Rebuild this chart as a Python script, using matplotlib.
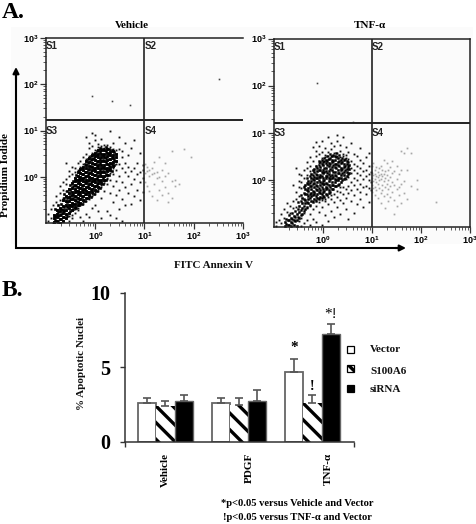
#!/usr/bin/env python3
# plot.py - flow cytometry panels (A) and apoptotic nuclei bars (B)

import matplotlib
matplotlib.use("Agg")
import matplotlib.pyplot as plt
from matplotlib.patches import Rectangle
from matplotlib.ticker import LogLocator, NullFormatter

plt.rcParams['font.family'] = ['Liberation Serif', 'DejaVu Serif']
plt.rcParams['mathtext.fontset'] = 'custom'
plt.rcParams['mathtext.bf'] = 'Liberation Sans:bold'
plt.rcParams['hatch.linewidth'] = 2.4

W, H = 477, 524

# scatter values are log10 readings, one x per column with its list of y
veh_core_x = [-0.84, -0.78, -0.72, -0.66, -0.60, -0.54, -0.48, -0.42, -0.36, -0.30, -0.24, -0.18,
              -0.12, -0.06, 0.0, 0.06, 0.12, 0.18, 0.24, 0.30, 0.36, 0.42]
veh_core_y = [[-0.98, -0.9, -0.82], [-0.96, -0.88, -0.8, -0.72], [-0.99, -0.91, -0.83, -0.75, -0.67],
              [-0.95, -0.87, -0.79, -0.71, -0.63, -0.5], [-0.9, -0.8, -0.72, -0.62, -0.52, -0.42],
              [-0.78, -0.68, -0.6, -0.52, -0.44, -0.36, -0.26], [-0.72, -0.64, -0.56, -0.48, -0.4, -0.32, -0.24, -0.14],
              [-0.66, -0.58, -0.5, -0.42, -0.34, -0.26, -0.18, -0.1, -0.02], [-0.62, -0.54, -0.46, -0.38, -0.3, -0.22, -0.14, -0.06, 0.02, 0.1],
              [-0.56, -0.48, -0.4, -0.32, -0.24, -0.16, -0.08, 0.0, 0.08, 0.16], [-0.5, -0.42, -0.34, -0.26, -0.18, -0.1, -0.02, 0.06, 0.14, 0.22],
              [-0.46, -0.38, -0.3, -0.22, -0.14, -0.06, 0.02, 0.1, 0.18, 0.26, 0.34], [-0.4, -0.32, -0.24, -0.16, -0.08, 0.0, 0.08, 0.16, 0.24, 0.32, 0.4],
              [-0.34, -0.26, -0.18, -0.1, -0.02, 0.06, 0.14, 0.22, 0.3, 0.38, 0.46], [-0.28, -0.2, -0.12, -0.04, 0.04, 0.12, 0.2, 0.28, 0.36, 0.44, 0.52],
              [-0.22, -0.14, -0.06, 0.02, 0.1, 0.18, 0.26, 0.34, 0.42, 0.5, 0.58], [-0.14, -0.06, 0.02, 0.1, 0.18, 0.26, 0.34, 0.42, 0.5, 0.58],
              [-0.06, 0.02, 0.1, 0.18, 0.26, 0.34, 0.42, 0.5, 0.58], [0.04, 0.12, 0.2, 0.28, 0.36, 0.44, 0.52, 0.6],
              [0.14, 0.22, 0.3, 0.38, 0.46, 0.54], [0.24, 0.32, 0.4, 0.48, 0.56], [0.34, 0.42, 0.5]]
veh_fill_x = [-0.81, -0.75, -0.69, -0.63, -0.57, -0.51, -0.45, -0.39, -0.33, -0.27, -0.21, -0.15, -0.09, -0.03,
              0.03, 0.09, 0.15, 0.21, 0.27, 0.33, 0.39]
veh_fill_y = [[-0.93, -0.85, -0.7], [-0.97, -0.84, -0.77, -0.62], [-0.92, -0.81, -0.69, -0.58], [-0.86, -0.74, -0.65, -0.47, -0.38],
              [-0.84, -0.66, -0.55, -0.46, -0.3], [-0.75, -0.62, -0.49, -0.41, -0.28, -0.18], [-0.7, -0.59, -0.45, -0.37, -0.21, -0.1],
              [-0.67, -0.53, -0.44, -0.31, -0.2, -0.07, 0.04], [-0.6, -0.49, -0.36, -0.25, -0.11, -0.02, 0.13], [-0.58, -0.44, -0.29, -0.19, -0.05, 0.05, 0.19],
              [-0.52, -0.37, -0.27, -0.12, -0.01, 0.11, 0.27], [-0.47, -0.33, -0.19, -0.09, 0.04, 0.15, 0.3, 0.39], [-0.43, -0.28, -0.13, -0.02, 0.11, 0.24, 0.36, 0.44],
              [-0.37, -0.22, -0.07, 0.03, 0.17, 0.27, 0.41, 0.5], [-0.3, -0.17, -0.02, 0.09, 0.23, 0.32, 0.47, 0.55], [-0.25, -0.1, 0.06, 0.15, 0.29, 0.39, 0.53, 0.62],
              [-0.16, -0.03, 0.13, 0.21, 0.37, 0.46, 0.6], [-0.08, 0.07, 0.17, 0.31, 0.41, 0.55, 0.64], [0.03, 0.16, 0.25, 0.39, 0.49, 0.6],
              [0.12, 0.27, 0.43, 0.58], [0.26, 0.37, 0.54]]
veh_sparse_x = [-0.95, -0.9, -0.85, -0.8, -0.72, -0.66, -0.6, -0.54, -0.48, -0.42, -0.36, -0.3, -0.24, -0.18, -0.12,
                -0.06, 0.0, 0.06, 0.12, 0.18, 0.24, 0.3, 0.36, 0.42, 0.48, 0.54, 0.6, 0.66, 0.72, 0.78, 0.84, 0.9, 0.96]
veh_sparse_y = [[-0.95, -0.8], [-0.9, -0.7], [-0.99, -0.6], [-0.55, -0.42], [-0.5, -0.35, -0.2], [-0.45, -0.28, -0.12],
                [-0.3, -0.15, 0.3, -0.05], [-0.95, -0.85, 0.02, 0.12], [-0.9, -0.82, 0.05, 0.22], [-0.78, -0.7, 0.1, 0.18],
                [-0.72, -0.68, 0.15, 0.3], [-0.86, -0.6, 0.22, 0.33], [-0.95, -0.55, -0.58, 0.28, 0.42], [-0.8, -0.52, 0.38, 0.5, 0.85],
                [-0.88, -0.48, -0.44, 0.45, 0.62, 0.72], [-0.68, -0.42, -0.38, 0.52, 0.66, 0.95], [-0.6, -0.38, -0.32, 0.58, 0.8, 0.9],
                [-0.75, -0.3, -0.27, 0.64, 0.7], [-0.9, -0.45, -0.22, -0.18, 0.62, 0.66, 0.82], [-0.3, -0.14, -0.1, 0.62, 0.68], [-0.75, -0.15, -0.05, -0.02, 0.62, 0.68],
                [-0.82, -0.35, -0.08, 0.08, 0.58, 0.65, 0.98], [-0.55, -0.2, 0.05, 0.18, 0.6, 0.72], [-0.9, -0.4, -0.1, 0.15, 0.28, 0.58],
                [-0.7, -0.28, 0.02, 0.28, 0.6, 0.85], [-0.95, -0.48, -0.12, 0.2, 0.42, 0.55], [-0.6, -0.22, 0.1, 0.3, 0.72],
                [-0.35, 0.02, 0.22, 0.48], [-0.58, -0.15, 0.12, 0.62], [-0.42, -0.05, 0.18, 0.8], [-0.28, 0.05, 0.3], [-0.5, -0.12, 0.1, 0.52], [-0.32, -0.02, 0.15, 0.25]]
veh_s4_x = [1.02, 1.05, 1.1, 1.15, 1.2, 1.25, 1.3, 1.36, 1.42, 1.48, 1.55, 1.62, 1.7, 1.8, 1.95]
veh_s4_y = [[0.28, 0.08, -0.12], [0.22, 0.12, -0.2], [0.15, 0.02, -0.3], [0.2, 0.05, -0.42], [0.32, 0.08, -0.15], [0.1, -0.02, -0.5],
            [0.42, 0.0, -0.28], [0.14, -0.1, -0.4], [0.02, -0.22, 0.3], [0.08, -0.35, -0.55], [-0.1, -0.45, 0.55], [-0.08, -0.2], [-0.15], [0.6], [0.42]]
veh_upper_x = [-0.06, 0.33, 0.7, 2.52]
veh_upper_y = [1.75, 1.63, 1.55, 2.12]

tnf_core_x = [-0.78, -0.72, -0.66, -0.6, -0.54, -0.48, -0.42, -0.36, -0.30, -0.24, -0.18, -0.12,
              -0.06, 0.0, 0.06, 0.12, 0.18, 0.24, 0.30, 0.36, 0.42, 0.48, 0.54]
tnf_core_y = [[-0.98, -0.9], [-0.96, -0.86], [-0.98, -0.9, -0.8], [-0.95, -0.86, -0.76], [-0.97, -0.85, -0.72],
              [-0.8, -0.68, -0.56], [-0.72, -0.6, -0.5, -0.38], [-0.62, -0.5, -0.43, -0.31, -0.2, -0.1],
              [-0.5, -0.41, -0.35, -0.24, -0.18, -0.09, -0.02], [-0.44, -0.34, -0.28, -0.19, -0.12, -0.03, 0.04, 0.13],
              [-0.4, -0.3, -0.25, -0.15, -0.07, 0.0, 0.07, 0.17, 0.24], [-0.38, -0.29, -0.21, -0.14, -0.05, 0.03, 0.1, 0.19, 0.26],
              [-0.36, -0.27, -0.22, -0.1, -0.05, 0.06, 0.1, 0.21, 0.27, 0.38], [-0.34, -0.25, -0.19, -0.08, -0.03, 0.05, 0.15, 0.2, 0.31, 0.37],
              [-0.3, -0.2, -0.15, -0.06, 0.03, 0.08, 0.19, 0.25, 0.35, 0.42], [-0.28, -0.21, -0.11, -0.03, 0.03, 0.13, 0.19, 0.29, 0.35, 0.45],
              [-0.2, -0.11, -0.05, 0.05, 0.11, 0.22, 0.27, 0.37, 0.43, 0.5], [-0.14, -0.05, 0.01, 0.11, 0.17, 0.27, 0.33, 0.43, 0.5],
              [-0.1, -0.01, 0.05, 0.15, 0.21, 0.31, 0.37, 0.46], [-0.05, 0.04, 0.1, 0.2, 0.26, 0.36, 0.43],
              [0.02, 0.11, 0.17, 0.27, 0.33, 0.42], [0.08, 0.17, 0.23, 0.33, 0.4], [0.15, 0.24, 0.31]]
tnf_fill_x = [-0.75, -0.69, -0.63, -0.57, -0.51, -0.45, -0.39, -0.33, -0.27, -0.21, -0.15, -0.09, -0.03,
              0.03, 0.09, 0.15, 0.21, 0.27, 0.33, 0.39, 0.45, 0.51]
tnf_fill_y = [[-0.93, -0.82], [-0.95, -0.86, -0.74], [-0.91, -0.83, -0.7], [-0.88, -0.79, -0.65], [-0.78, -0.62, -0.47], [-0.74, -0.63, -0.45, -0.33],
              [-0.66, -0.55, -0.41, -0.27, -0.16], [-0.57, -0.46, -0.3, -0.21, -0.07, 0.03], [-0.53, -0.39, -0.29, -0.13, -0.06, 0.09],
              [-0.47, -0.33, -0.23, -0.09, 0.02, 0.1, 0.21], [-0.44, -0.35, -0.19, -0.11, 0.05, 0.13, 0.29], [-0.41, -0.26, -0.17, -0.01, 0.07, 0.22, 0.31, 0.4],
              [-0.39, -0.31, -0.15, -0.07, 0.09, 0.17, 0.33, 0.42], [-0.36, -0.24, -0.09, 0.0, 0.16, 0.25, 0.4, 0.47], [-0.33, -0.18, -0.09, 0.08, 0.15, 0.31, 0.39, 0.5],
              [-0.25, -0.16, 0.01, 0.09, 0.24, 0.33, 0.47, 0.55], [-0.19, -0.1, 0.07, 0.16, 0.31, 0.39, 0.53], [-0.14, 0.0, 0.09, 0.25, 0.33, 0.49, 0.57],
              [-0.09, 0.05, 0.15, 0.3, 0.4, 0.52], [-0.01, 0.14, 0.23, 0.37, 0.46], [0.05, 0.21, 0.29, 0.45], [0.12, 0.27, 0.38]]
tnf_sparse_x = [-0.95, -0.9, -0.85, -0.8, -0.74, -0.68, -0.62, -0.56, -0.5, -0.44, -0.38, -0.32, -0.26, -0.2, -0.14, -0.08, -0.02, 0.04,
                0.1, 0.16, 0.22, 0.28, 0.34, 0.4, 0.46, 0.52, 0.58, 0.64, 0.7, 0.76, 0.82, 0.88, 0.94, 0.98]
tnf_sparse_y = [[-0.98, -0.9], [-0.85], [-0.92, -0.72], [-0.8, -0.62], [-0.68, -0.5], [-0.7, -0.55], [-0.6, -0.45, -0.1],
                [-0.58, -0.4, -0.25, 0.25], [-0.88, -0.35, -0.15, 0.12, -0.02], [-0.98, -0.8, -0.18, -0.05, 0.1], [-0.92, -0.7, -0.12, 0.05, 0.2],
                [-0.85, -0.6, 0.1, 0.25, 0.38], [-0.95, -0.72, -0.55, 0.18, 0.3, 0.48], [-0.82, -0.62, -0.45, 0.22, 0.4, 0.7], [-0.9, -0.55, -0.42, 0.3, 0.5, 0.62, 0.8],
                [-0.68, -0.48, -0.38, 0.36, 0.55, 0.72], [-0.95, -0.58, -0.42, 0.46, 0.6, 0.82], [-0.75, -0.44, -0.4, 0.48, 0.52, 0.68],
                [-0.88, -0.52, -0.36, 0.5, 0.45, 0.6, 0.9], [-0.65, -0.4, -0.32, 0.5, 0.65, 0.78], [-0.78, -0.48, -0.3, 0.56, 0.72],
                [-0.58, -0.36, -0.24, 0.5, 0.58, 0.82, 0.95], [-0.72, -0.42, -0.25, -0.16, 0.48, 0.62, 0.75], [-0.5, -0.3, -0.15, 0.5, 0.55, 0.9],
                [-0.62, -0.38, -0.2, 0.02, 0.46, 0.52, 0.7], [-0.82, -0.28, -0.12, 0.06, 0.3, 0.45, 0.6], [-0.45, -0.22, -0.05, 0.15, 0.26, 0.4, 0.78],
                [-0.7, -0.32, -0.1, 0.05, 0.22, 0.34, 0.55], [-0.52, -0.2, 0.0, 0.14, 0.3, 0.5], [-0.4, -0.25, -0.08, 0.1, 0.25, 0.42, 0.68],
                [-0.58, -0.15, 0.02, 0.18, 0.36], [-0.3, -0.12, 0.08, 0.22, 0.48], [-0.46, -0.18, 0.0, 0.12, 0.3, 0.58], [-0.22, -0.05, 0.16]]
tnf_s4_x = [1.01, 1.03, 1.06, 1.09, 1.12, 1.15, 1.18, 1.21, 1.24, 1.27, 1.3, 1.33, 1.37, 1.41, 1.45, 1.5, 1.55, 1.6, 1.66, 1.72, 1.8, 1.92, 2.3]
tnf_s4_y = [[0.3, 0.15, 0.05, -0.1, -0.25], [0.35, 0.1, -0.02, -0.18], [0.22, 0.12, 0.02, -0.15, -0.32], [0.28, 0.08, -0.05, -0.22],
            [0.16, 0.06, -0.08, -0.38], [0.25, 0.1, 0.0, -0.18], [0.3, 0.13, 0.02, -0.28, -0.5], [0.2, 0.08, -0.1, -0.22], [0.42, 0.12, -0.02, -0.35],
            [0.18, 0.05, -0.15, -0.6], [0.36, 0.1, -0.08, -0.3], [0.22, 0.0, -0.2, -0.45], [0.28, 0.06, -0.12, -0.36], [0.4, 0.14, -0.05, -0.25],
            [0.18, -0.1, -0.42, -0.72], [0.3, 0.02, -0.2, -0.55], [0.12, -0.15, -0.32], [0.62, 0.22, -0.08, -0.5], [0.58, -0.02, -0.28], [0.68, 0.2, -0.4],
            [0.58, -0.12], [0.0, -0.2], [-0.48]]
tnf_upper_x = [-0.12, 0.62]
tnf_upper_y = [2.05, 1.22]

# bar chart
groups = ['Vehicle', 'PDGF', 'TNF-α']
series = ['Vector', 'S100A6', 'siRNA']
vector_vals = [2.6, 2.6, 4.7]
s100a6_vals = [2.4, 2.45, 2.6]
sirna_vals = [2.7, 2.7, 7.2]
vector_err = [0.35, 0.35, 0.85]
s100a6_err = [0.3, 0.5, 0.55]
sirna_err = [0.45, 0.75, 0.7]
y_ticks = [0, 5, 10]
log_labels = ['0', '1', '2', '3']


def ax_px(l, t, r, b):
    return fig.add_axes([l / W, 1 - b / H, (r - l) / W, (b - t) / H])


def cols(xs, yss):
    px, py = [], []
    for x, ys in zip(xs, yss):
        for y in ys:
            px.append(10 ** x)
            py.append(10 ** y)
    return px, py


def flow_panel(rect, core, fill, sparse, s4, upper, qy, spines, core_size, fill_size):
    ax = ax_px(*rect)
    ax.patch.set_alpha(0)
    ax.set_xscale('log')
    ax.set_yscale('log')
    ax.set_xlim(0.1, 1000)
    ax.set_ylim(0.1, 1000)
    # snap off so the dots blur a bit like the scanned original
    px, py = cols(*s4)
    ax.scatter(px, py, s=1.6, c='#a8a8a8', marker='s', linewidths=0, snap=False)
    px, py = cols(*sparse)
    ax.scatter(px, py, s=1.8, c='#111111', marker='s', linewidths=0, snap=False)
    px, py = cols(*core)
    ax.scatter(px, py, s=core_size, c='black', marker='s', linewidths=0, snap=False)
    px, py = cols(*fill)
    ax.scatter(px, py, s=fill_size, c='black', marker='s', linewidths=0, snap=False)
    ax.scatter([10 ** v for v in upper[0]], [10 ** v for v in upper[1]], s=1.4, c='#444444', marker='s', linewidths=0, snap=False)
    ax.axvline(10, color='#222222', lw=1.2)
    ax.axhline(10 ** qy, color='#222222', lw=1.4)
    for side in ax.spines:
        ax.spines[side].set_visible(side in spines)
        ax.spines[side].set_color('#222222')
        ax.spines[side].set_linewidth(1.1)
    ticks = [1, 10, 100, 1000]
    labels = ['$\\mathbf{10^{%s}}$' % s for s in log_labels]
    ax.set_xticks(ticks, labels)
    ax.set_yticks(ticks, labels)
    for axis in (ax.xaxis, ax.yaxis):
        axis.set_minor_locator(LogLocator(base=10, subs=range(2, 10), numticks=20))
        axis.set_minor_formatter(NullFormatter())
    ax.tick_params(which='major', length=4, width=0.9, labelsize=6.5, pad=1.5, color='#333333')
    ax.tick_params(which='minor', length=2, width=0.6, color='#444444')
    for name, x, y in [('S1', 0.1, 2.82), ('S2', 10, 2.82), ('S3', 0.1, 1.0), ('S4', 10, 1.0)]:
        ax.text(x, 10 ** y, name, family='Liberation Sans', weight='bold', fontsize=7,
                ha='left', va='center', color='#222222')
    return ax


fig = plt.figure(figsize=(W / 100, H / 100), dpi=100)

over = fig.add_axes([0, 0, 1, 1])
over.set_xlim(0, W)
over.set_ylim(H, 0)
over.axis('off')
over.add_patch(Rectangle((11, 27), 462, 217, fc='#fbfbfb', ec='none'))

flow_panel((46, 38, 243, 223), (veh_core_x, veh_core_y), (veh_fill_x, veh_fill_y), (veh_sparse_x, veh_sparse_y),
           (veh_s4_x, veh_s4_y), (veh_upper_x, veh_upper_y), 1.22, ('left', 'top', 'bottom'), 4.4, 3.6)
flow_panel((274, 38.5, 470, 227), (tnf_core_x, tnf_core_y), (tnf_fill_x, tnf_fill_y), (tnf_sparse_x, tnf_sparse_y),
           (tnf_s4_x, tnf_s4_y), (tnf_upper_x, tnf_upper_y), 1.2, ('left', 'top', 'bottom', 'right'), 3.4, 3.0)

# axis arrows round panel A
over.plot([16, 16, 400], [75, 248, 248], color='black', lw=1.5, solid_joinstyle='miter')
for start, end in [((16, 80), (16, 67)), ((395, 248), (406, 248))]:
    over.annotate('', xy=end, xytext=start,
                  arrowprops=dict(arrowstyle='-|>', color='black', lw=1.5, mutation_scale=9, shrinkA=0, shrinkB=0))

over.text(2, 12, 'A.', weight='bold', fontsize=17, ha='left', va='center')
over.text(2, 290, 'B.', weight='bold', fontsize=17, ha='left', va='center')
over.text(132, 26, 'Vehicle', weight='bold', fontsize=8, ha='center', va='center')
over.text(370, 26, 'TNF-α', weight='bold', fontsize=8, ha='center', va='center')
over.text(6, 175, 'Propidium Iodide', weight='bold', fontsize=8, rotation=90, ha='center', va='center')
over.text(214, 265, 'FITC Annexin V', weight='bold', fontsize=8, ha='center', va='center', color='#111111')

# panel B
ax = ax_px(125, 292.7, 354, 441.7)
ax.patch.set_alpha(0)
w = 0.249
pos = range(len(groups))
edge = '#666666'
errkw = dict(ecolor='#555555', elinewidth=1.2, capsize=3, capthick=1.2)
ax.bar([p - w for p in pos], vector_vals, w, color='white', edgecolor=edge, linewidth=1.3,
       yerr=[[0, 0, 0], vector_err], error_kw=errkw)
ax.bar(list(pos), s100a6_vals, w, color='white', edgecolor='black', linewidth=0, hatch='\\\\',
       yerr=[[0, 0, 0], s100a6_err], error_kw=errkw)
ax.bar([p + w for p in pos], sirna_vals, w, color='black', edgecolor=edge, linewidth=1.0,
       yerr=[[0, 0, 0], sirna_err], error_kw=errkw)
ax.set_xlim(-0.551, 2.565)
ax.set_ylim(0, 10)
ax.spines['top'].set_visible(False)
ax.spines['right'].set_visible(False)
for side in ('left', 'bottom'):
    ax.spines[side].set_color('#333333')
    ax.spines[side].set_linewidth(1.1)
ax.set_yticks(y_ticks)
# the group names sit right of the bar groups in the original
ax.set_xticks([0.0, 1.136, 2.21], groups, rotation=90, weight='bold', fontsize=8)
ax.set_xticks([-0.551, 2.565], minor=True)
ax.tick_params(axis='x', which='major', length=0, pad=8)
ax.tick_params(axis='x', which='minor', length=3.5, width=1, color='#333333')
ax.tick_params(axis='y', length=3.5, width=1, color='#333333', pad=7)
for lab in ax.get_yticklabels():
    lab.set_fontsize(14.5)
    lab.set_fontweight('bold')

ax.text(2 - w, 6.3, '*', weight='bold', fontsize=11, ha='center', va='center')
ax.text(2 + w, 8.55, '*!', fontsize=11, ha='center', va='center')
ax.text(2, 3.7, '!', weight='bold', fontsize=10, ha='center', va='center')

over.text(82, 363, '% Apoptotic Nuclei', weight='bold', fontsize=8, rotation=90, ha='center', va='center', color='#111111')

# legend squares are drawn by hand, they sit to the right of the axis
for name, y, ty, fc, hatch in [(series[0], 349, 350, 'white', None), (series[1], 368.5, 371, 'white', '\\\\'),
                               (series[2], 388, 390, 'black', None)]:
    over.add_patch(Rectangle((347.5, y - 3.5), 7, 7, fc=fc, ec='black', lw=0.9, hatch=hatch))
    over.text(370, ty, name, weight='bold', fontsize=8, ha='left', va='center', color='#111111')

over.text(297, 503, '*p<0.05 versus Vehicle and Vector', weight='bold', fontsize=7.6, ha='center', va='center')
over.text(297, 518, '!p<0.05 versus TNF-α and Vector', weight='bold', fontsize=7.6, ha='center', va='center')

fig.savefig('out.png', dpi=100)
